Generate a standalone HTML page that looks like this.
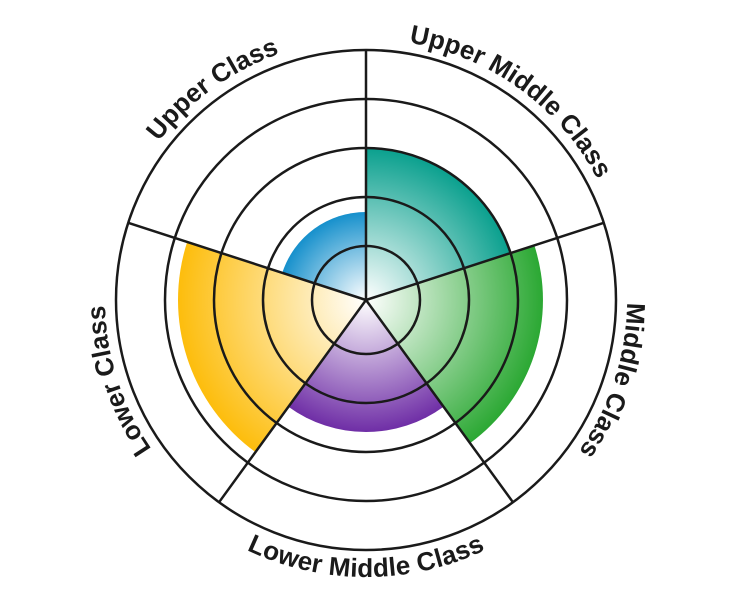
<!DOCTYPE html>
<html><head><style>html,body{margin:0;padding:0;background:#fff}svg{display:block}</style></head>
<body>
<svg width="732" height="600" viewBox="0 0 732 600" xmlns="http://www.w3.org/2000/svg">
<defs>
<radialGradient id="gb" gradientUnits="userSpaceOnUse" cx="366" cy="300" r="88"><stop offset="0" stop-color="#fff"/><stop offset="1" stop-color="#1690cc"/></radialGradient>
<radialGradient id="gt" gradientUnits="userSpaceOnUse" cx="366" cy="300" r="152"><stop offset="0" stop-color="#fff"/><stop offset="1" stop-color="#0aa08e"/></radialGradient>
<radialGradient id="gg" gradientUnits="userSpaceOnUse" cx="366" cy="300" r="177"><stop offset="0" stop-color="#fff"/><stop offset="1" stop-color="#2ba833"/></radialGradient>
<radialGradient id="gp" gradientUnits="userSpaceOnUse" cx="366" cy="300" r="132"><stop offset="0" stop-color="#fff"/><stop offset="1" stop-color="#6f2ea6"/></radialGradient>
<radialGradient id="gy" gradientUnits="userSpaceOnUse" cx="366" cy="300" r="188"><stop offset="0" stop-color="#fff"/><stop offset="1" stop-color="#fdbd0c"/></radialGradient>
<path id="cw" d="M366,39 A261,261 0 1 1 365.99,39"/>
<path id="bt" d="M94,300 A272,272 0 0 0 638,300"/>
</defs>
<path d="M366,300 L282.3,272.8 A88,88 0 0 1 366,212 Z" fill="url(#gb)"/>
<path d="M366,300 L366,148 A152,152 0 0 1 510.6,253 Z" fill="url(#gt)"/>
<path d="M366,300 L534.3,245.3 A177,177 0 0 1 470,443.2 Z" fill="url(#gg)"/>
<path d="M366,300 L443.6,406.8 A132,132 0 0 1 288.4,406.8 Z" fill="url(#gp)"/>
<path d="M366,300 L255.5,452.1 A188,188 0 0 1 187.2,241.9 Z" fill="url(#gy)"/>
<g fill="none" stroke="#1a1a1a" stroke-width="2.5">
<circle cx="366" cy="300" r="250"/>
<circle cx="366" cy="300" r="201"/>
<circle cx="366" cy="300" r="152"/>
<circle cx="366" cy="300" r="103"/>
<circle cx="366" cy="300" r="54"/>
<path d="M366,300 L366,50 M366,300 L603.8,222.8 M366,300 L513,502.3 M366,300 L219,502.3 M366,300 L128.2,222.8"/>
</g>
<g font-family="Liberation Sans, sans-serif" font-weight="bold" font-size="26" fill="#1a1a1a" text-anchor="middle">
<text><textPath href="#cw" startOffset="90%">Upper Class</textPath></text>
<text><textPath href="#cw" startOffset="10%">Upper Middle Class</textPath></text>
<text><textPath href="#cw" startOffset="30%">Middle Class</textPath></text>
<text><textPath href="#cw" startOffset="70%">Lower Class</textPath></text>
<text dy="5"><textPath href="#bt" startOffset="50%">Lower Middle Class</textPath></text>
</g>
</svg>
</body></html>
